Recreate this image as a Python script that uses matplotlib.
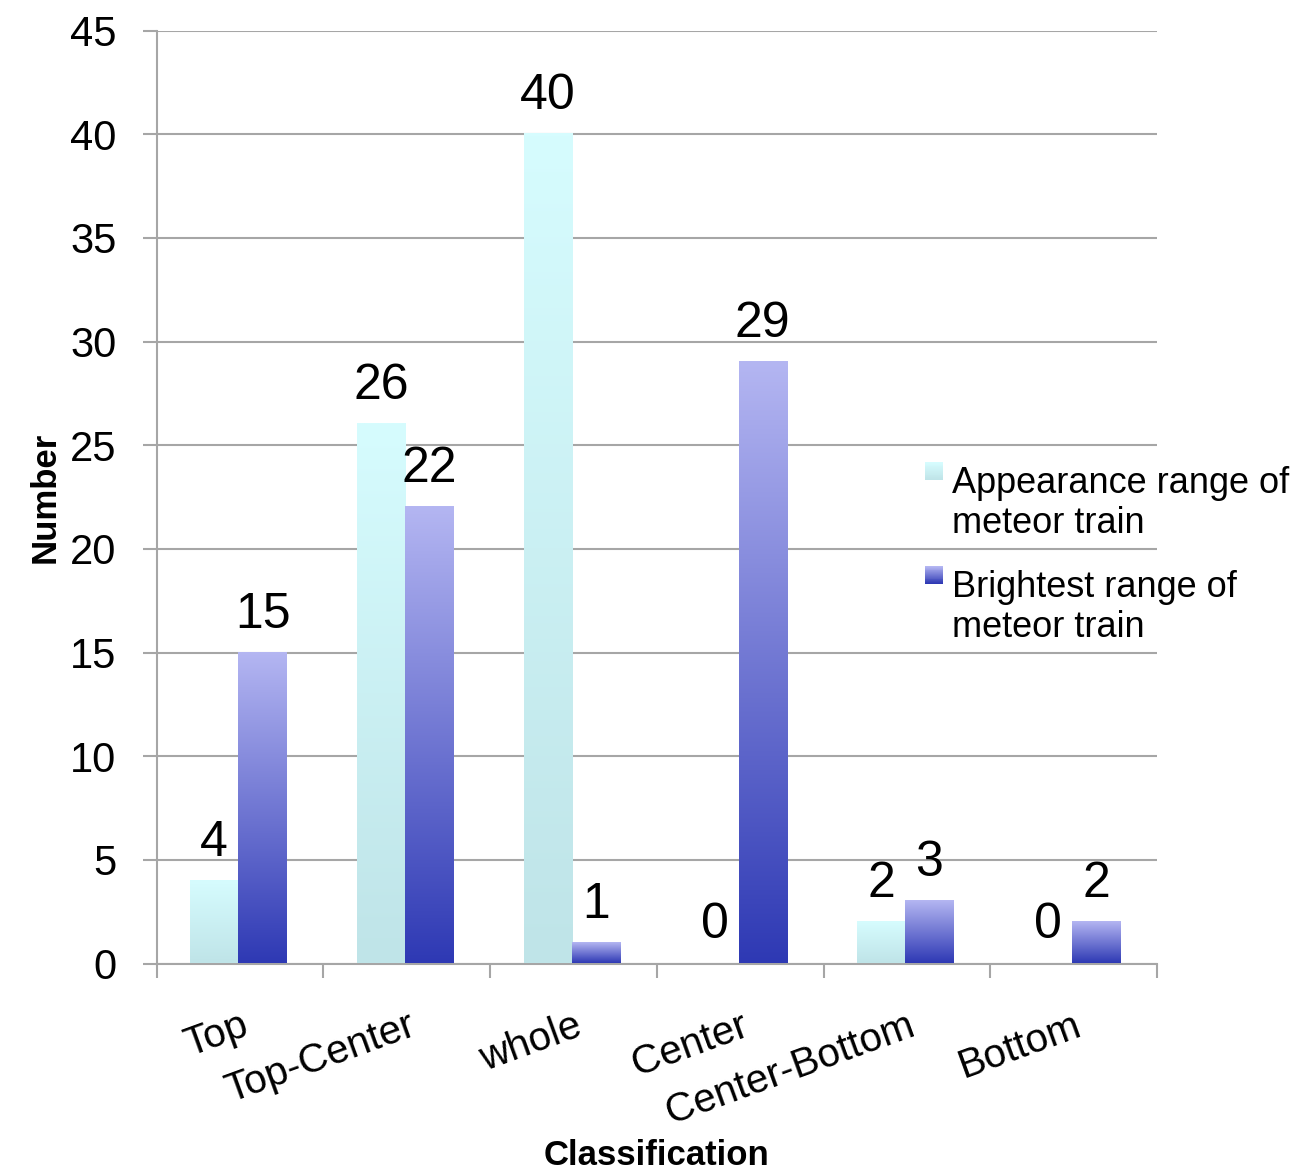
import numpy as np
import matplotlib
matplotlib.use('Agg')
import matplotlib.pyplot as plt
from matplotlib.colors import LinearSegmentedColormap
from matplotlib.patches import Rectangle

categories = ['Top', 'Top-Center', 'whole', 'Center', 'Center-Bottom', 'Bottom']
appearance = [4, 26, 40, 0, 2, 0]
brightest = [15, 22, 1, 29, 3, 2]
series_names = ['Appearance range of\nmeteor train', 'Brightest range of\nmeteor train']

# (bottom colour, top colour) of each series' vertical gradient
appearance_colors = ('#bfe4e8', '#d6fcfe')
brightest_colors = ('#2e39b4', '#b4b6f2')
grid_color = '#a6a6a6'

plt.rcParams['font.family'] = ['Liberation Sans', 'DejaVu Sans']


def gradient_bars(ax, bars, colors):
    cmap = LinearSegmentedColormap.from_list('grad', colors)
    grad = np.linspace(0, 1, 256).reshape(-1, 1)
    for bar in bars:
        h = bar.get_height()
        bar.set_facecolor('none')
        if h <= 0:
            continue
        x0 = bar.get_x()
        w = bar.get_width()
        ax.imshow(grad, cmap=cmap, origin='lower', aspect='auto',
                  extent=[x0, x0 + w, 0, h], zorder=3)
    return cmap


fig = plt.figure(figsize=(13.06, 11.75), dpi=100)
ax = fig.add_axes([0.120, 0.180, 0.766, 0.794])

x = np.arange(len(categories))
width = 0.29
shift = -0.01
bars_a = ax.bar(x + shift - width / 2, appearance, width, linewidth=0, zorder=3)
bars_b = ax.bar(x + shift + width / 2, brightest, width, linewidth=0, zorder=3)
cmap_a = gradient_bars(ax, bars_a, appearance_colors)
cmap_b = gradient_bars(ax, bars_b, brightest_colors)

# value labels above each bar
for bars, vals in ((bars_a, appearance), (bars_b, brightest)):
    for bar, v in zip(bars, vals):
        ax.annotate(str(v), (bar.get_x() + bar.get_width() / 2, v),
                    xytext=(0, 18), textcoords='offset points',
                    ha='center', va='baseline', fontsize=36)

ax.set_xlim(-0.5, len(categories) - 0.5)
ax.set_ylim(0, 45)
ax.set_yticks(range(0, 46, 5))
ax.tick_params(axis='y', labelsize=30, length=10, width=1.5, color=grid_color, pad=19)

ax.set_xticks(x, categories, rotation=20, ha='right', rotation_mode='anchor', fontsize=29)
ax.set_xticks(np.arange(-0.5, len(categories)), minor=True)
ax.tick_params(axis='x', which='major', length=0, pad=31)
ax.tick_params(axis='x', which='minor', length=10, width=1.5, color=grid_color)
for lbl in ax.get_xticklabels():
    lbl.set_va('top')

ax.yaxis.grid(True, color=grid_color, linewidth=1.5)
ax.set_axisbelow(True)
for side in ('top', 'right'):
    ax.spines[side].set_visible(False)
for side in ('left', 'bottom'):
    ax.spines[side].set_color(grid_color)
    ax.spines[side].set_linewidth(1.5)

ax.set_xlabel('Classification', fontsize=25, fontweight='bold')
ax.xaxis.set_label_coords(0.5, -0.188)
ax.set_ylabel('Number', fontsize=25, fontweight='bold')
ax.yaxis.set_label_coords(-0.095, 0.5)

# legend: gradient squares next to two-line labels (text placed by its last line)
legend_rows = [(0.5915, 0.5464, cmap_a), (0.503, 0.4579, cmap_b)]
sq_w, sq_h = 18 / 1306, 18 / 1175
for (sq_y, text_y, cmap), name in zip(legend_rows, series_names):
    n = 20
    for i in range(n):
        fig.add_artist(Rectangle((0.7083, sq_y + sq_h * i / n), sq_w, sq_h / n + 0.0002,
                                 transform=fig.transFigure, color=cmap(i / (n - 1)),
                                 linewidth=0))
    fig.text(0.729, text_y, name, fontsize=26, ha='left', va='baseline')

fig.savefig('out.png', dpi=100)
